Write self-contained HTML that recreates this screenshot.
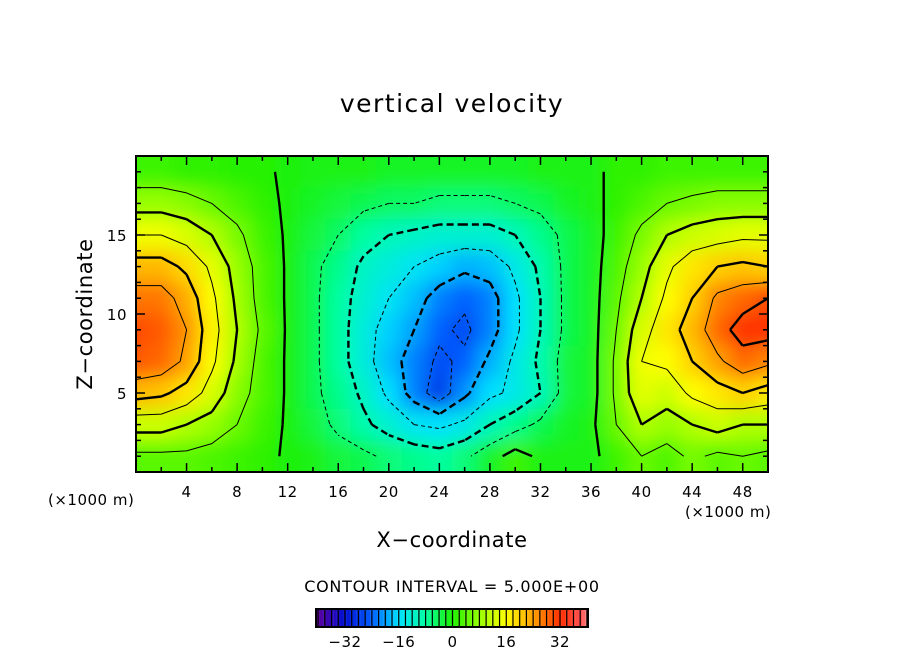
<!DOCTYPE html>
<html><head><meta charset="utf-8"><style>
body{margin:0;background:#fff;width:904px;height:654px;overflow:hidden}
text{font-family:"DejaVu Sans","Liberation Sans",sans-serif;fill:#000}
</style></head><body>
<svg id="chart" width="904" height="654" viewBox="0 0 904 654" xmlns="http://www.w3.org/2000/svg">
<defs>
<filter id="blur" x="-20%" y="-20%" width="140%" height="140%"><feGaussianBlur stdDeviation="9"/></filter>
<clipPath id="plotclip"><rect x="136" y="156" width="632" height="316"/></clipPath>
</defs>
<text x="452" y="112" font-size="25" letter-spacing="1.5" text-anchor="middle">vertical velocity</text>
<g clip-path="url(#plotclip)"><g id="field" filter="url(#blur)"></g><g id="contours"></g></g>
<rect x="136" y="156" width="632" height="316" fill="none" stroke="#000" stroke-width="2"/>
<g id="ticks"></g>
<text transform="translate(92,314) rotate(-90)" font-size="21" letter-spacing="0.6" text-anchor="middle">Z−coordinate</text>
<text x="452" y="547" font-size="21" letter-spacing="0.6" text-anchor="middle">X−coordinate</text>
<text x="48" y="505" font-size="15" letter-spacing="0.5">(×1000 m)</text>
<text x="685" y="517" font-size="15" letter-spacing="0.5">(×1000 m)</text>
<text x="452" y="592" font-size="16" letter-spacing="0.7" text-anchor="middle">CONTOUR INTERVAL = 5.000E+00</text>
<g id="cbar"></g>
</svg>
<script>
const xCoords=[0,2,4,6,8,10,12,14,16,18,20,22,24,26,28,30,32,34,36,38,40,42,44,46,48,50];
const zCoords=[19,17,15,13,11,9,7,5,3,1];
const wValues=[
[2,2,1,1,0.5,0.5,-0.5,-1,-1,-1,-2,-2,-2,-2,-2,-2,-1,-1,-1,1,1,2,2,2,2,2],
[8,8,7,5,3,1,-0.5,-2,-3,-4,-5,-5,-6,-6,-6,-5,-4,-2,-1,1,3,5,6,7,7,7],
[15,15,13,10,6,2,-0.5,-3,-5,-8,-10,-11,-12,-12,-12,-10,-7,-4,-2,2,6,10,12,13,14,14],
[22,22,19,14,8,3,-0.5,-4,-7,-11,-13,-15,-17,-19,-18,-14,-9,-4,-2,3,8,14,18,20,21,20],
[27,27,23,16,9,3,-0.5,-4,-8,-12,-15,-18,-22,-24,-22,-16,-10,-4,-2,4,10,16,20,26,28,30],
[30,29,25,17,10,4,-0.5,-4,-8,-13,-17,-20,-24,-26,-22,-16,-10,-4,-2,5,13,18,22,28,32,32],
[29,28,24,16,9,3,-0.5,-4,-8,-13,-18,-22,-26,-24,-19,-14,-9,-3,-2,6,15,16,20,24,28,26],
[22,21,18,13,7,3,-0.5,-4,-7,-11,-16,-22,-28,-21,-16,-14,-10,-3,-2,6,14,12,16,18,20,18],
[12,12,10,8,5,2,-0.5,-3,-6,-9,-12,-15,-16,-14,-10,-7,-4,-2,-1,5,10,8,10,12,10,10],
[4,4,4,3,2,1,-0.5,-1,-3,-4,-6,-7,-8,-6,-2,2,-1,-1,-1,2,5,3,6,4,5,4]];
const contourLevels=[-25,-20,-15,-10,-5,0,5,10,15,20,25,30];
const xTickLabels=[4,8,12,16,20,24,28,32,36,40,44,48];
const yTickLabels=[5,10,15];
const cbarTickLabels=[-32,-16,0,16,32];

const NS="http://www.w3.org/2000/svg";
const X0=136,X1=768,Y0=472,Y1=156;
const sx=v=>X0+(v-0)/(50-0)*(X1-X0);
const sy=v=>Y0-(v-0)/(20-0)*(Y0-Y1);
const stops=[[-40,[90,0,160]],[-32,[0,16,210]],[-24,[0,96,255]],[-16,[0,224,255]],[-8,[0,255,160]],[0,[30,240,0]],[8,[150,255,0]],[16,[255,255,0]],[24,[255,160,0]],[32,[255,48,0]],[38,[255,80,80]],[41,[255,150,150]]];
function col(v){
  if(v<=stops[0][0])return `rgb(${stops[0][1]})`;
  for(let i=1;i<stops.length;i++){if(v<=stops[i][0]){const a=stops[i-1],b=stops[i],t=(v-a[0])/(b[0]-a[0]);
    return `rgb(${a[1].map((c,k)=>Math.round(c+(b[1][k]-c)*t)).join(',')})`;}}
  return `rgb(${stops[stops.length-1][1]})`;
}
function mk(tag,attrs,parent){const e=document.createElementNS(NS,tag);for(const k in attrs)e.setAttribute(k,attrs[k]);parent.appendChild(e);return e;}
const field=document.getElementById('field');
zCoords.forEach((z,r)=>{xCoords.forEach((x,c)=>{
  let xa=sx(x-1),xb=sx(x+1),ya=sy(z+1),yb=sy(z-1);
  if(c===0)xa-=30; if(c===xCoords.length-1)xb+=30; if(r===0)ya-=30; if(r===zCoords.length-1)yb+=30;
  const e=mk('rect',{x:xa,y:ya,width:xb-xa+0.5,height:yb-ya+0.5,fill:col(wValues[r][c])},field);
  
  
});});
const cg=document.getElementById('contours');
contourLevels.forEach(L=>{
  let d='';
  for(let r=0;r<zCoords.length-1;r++)for(let c=0;c<xCoords.length-1;c++){
    const P=[[xCoords[c],zCoords[r],wValues[r][c]],[xCoords[c+1],zCoords[r],wValues[r][c+1]],[xCoords[c+1],zCoords[r+1],wValues[r+1][c+1]],[xCoords[c],zCoords[r+1],wValues[r+1][c]]];
    const pts=[];
    for(let i=0;i<4;i++){const a=P[i],b=P[(i+1)%4];
      if((a[2]<L)!==(b[2]<L)){const t=(L-a[2])/(b[2]-a[2]);pts.push([sx(a[0]+(b[0]-a[0])*t),sy(a[1]+(b[1]-a[1])*t)]);}}
    for(let i=0;i+1<pts.length;i+=2)d+=`M${pts[i][0].toFixed(1)},${pts[i][1].toFixed(1)}L${pts[i+1][0].toFixed(1)},${pts[i+1][1].toFixed(1)}`;
  }
  const e=mk('path',{d:d,fill:'none',stroke:'#000','stroke-width':L%10===0?2.4:1,'stroke-dasharray':L<0?(L%10===0?'7,4':'4,3'):'none'},cg);
  
  
});
const tg=document.getElementById('ticks');
for(let x=2;x<50;x+=2){const big=x%4===0;
  mk('line',{x1:sx(x),x2:sx(x),y1:Y0,y2:Y0-(big?9:5),stroke:'#000','stroke-width':1.5},tg);
  mk('line',{x1:sx(x),x2:sx(x),y1:Y1,y2:Y1+(big?9:5),stroke:'#000','stroke-width':1.5},tg);}
for(let z=1;z<20;z++){const big=z%5===0;
  mk('line',{x1:X0,x2:X0+(big?9:5),y1:sy(z),y2:sy(z),stroke:'#000','stroke-width':1.5},tg);
  mk('line',{x1:X1,x2:X1-(big?9:5),y1:sy(z),y2:sy(z),stroke:'#000','stroke-width':1.5},tg);}
xTickLabels.forEach(v=>{const t=mk('text',{x:sx(v),y:497,'font-size':15,'letter-spacing':0.5,'text-anchor':'middle'},tg);t.textContent=v;
  
  });
yTickLabels.forEach(v=>{const t=mk('text',{x:127,y:sy(v)+6,'font-size':15,'letter-spacing':0.5,'text-anchor':'end'},tg);t.textContent=v;
  
  });
const cb=document.getElementById('cbar');
const cx=v=>452.5+v*3.36;
for(let v=-40.5;v<40.5;v+=1){mk('rect',{x:cx(v),y:609,width:3.5,height:18,fill:col(v+0.5)},cb);}
for(let v=-40;v<=40;v+=2){mk('line',{x1:cx(v),x2:cx(v),y1:609,y2:627,stroke:'#000','stroke-width':1.2},cb);}
mk('rect',{x:316,y:609,width:272,height:18,fill:'none',stroke:'#000','stroke-width':2},cb);
cbarTickLabels.forEach(v=>{const t=mk('text',{x:cx(v),y:647,'font-size':15,'letter-spacing':0.5,'text-anchor':'middle'},cb);t.textContent=(v<0?'−':'')+Math.abs(v);
  
  });
</script>
</body></html>
